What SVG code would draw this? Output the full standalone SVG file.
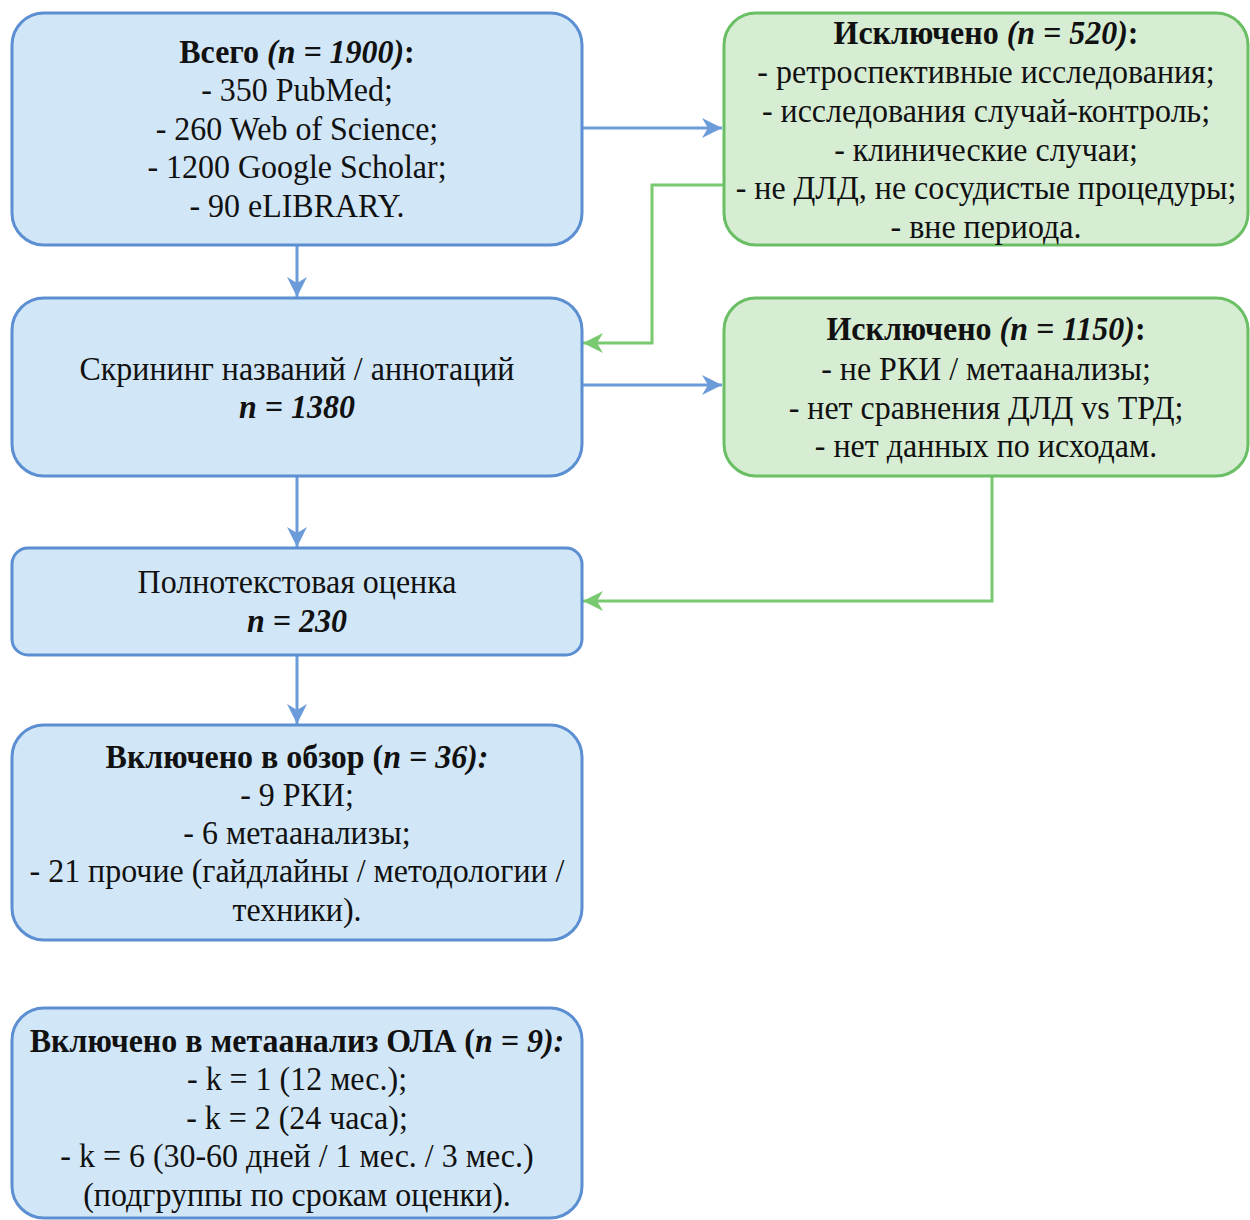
<svg xmlns="http://www.w3.org/2000/svg" width="1250" height="1220" viewBox="0 0 1250 1220">
<style>
.bn{fill:#d1e7f7;stroke:#5b8fd2;stroke-width:3}
.gn{fill:#d6edd4;stroke:#6abf64;stroke-width:3}
text{font-family:"Liberation Serif","Times New Roman",serif;font-size:34px;fill:#111;text-anchor:middle}
.b{font-weight:bold}
.i{font-style:italic}
.cb{fill:none;stroke:#6b9cd9;stroke-width:3}
.cg{fill:none;stroke:#79c970;stroke-width:3}
</style>
<defs>
<marker id="ab" markerWidth="22" markerHeight="22" refX="20" refY="11" orient="auto" markerUnits="userSpaceOnUse">
<path d="M0,1 L20,11 L0,21 L6,11 z" fill="#6b9cd9"/>
</marker>
<marker id="ag" markerWidth="22" markerHeight="22" refX="20" refY="11" orient="auto" markerUnits="userSpaceOnUse">
<path d="M0,1 L20,11 L0,21 L6,11 z" fill="#79c970"/>
</marker>
</defs>
<g id="connectors">
<path class="cb" d="M582,128 L722,128" marker-end="url(#ab)"/>
<path class="cb" d="M297,245 L297,297" marker-end="url(#ab)"/>
<path class="cg" d="M724,185 L652,185 L652,343 L583,343" marker-end="url(#ag)"/>
<path class="cb" d="M582,385 L722,385" marker-end="url(#ab)"/>
<path class="cb" d="M297,476 L297,547" marker-end="url(#ab)"/>
<path class="cg" d="M992,476 L992,601 L583,601" marker-end="url(#ag)"/>
<path class="cb" d="M297,655 L297,724" marker-end="url(#ab)"/>
</g>
<g id="total">
<rect class="bn" x="12" y="13" width="570" height="232" rx="32"/>
<g transform="translate(297,0) scale(0.94,1)">
<text x="0" y="63"><tspan class="b">Всего </tspan><tspan class="b i">(n = 1900)</tspan><tspan class="b">:</tspan></text>
<text x="0" y="101">- 350 PubMed;</text>
<text x="0" y="140">- 260 Web of Science;</text>
<text x="0" y="178">- 1200 Google Scholar;</text>
<text x="0" y="217">- 90 eLIBRARY.</text>
</g>
</g>
<g id="excluded1">
<rect class="gn" x="724" y="13" width="524" height="232" rx="32"/>
<g transform="translate(986,0) scale(0.94,1)">
<text x="0" y="44"><tspan class="b">Исключено </tspan><tspan class="b i">(n = 520)</tspan><tspan class="b">:</tspan></text>
<text x="0" y="83">- ретроспективные исследования;</text>
<text x="0" y="122">- исследования случай-контроль;</text>
<text x="0" y="161">- клинические случаи;</text>
<text x="0" y="199">- не ДЛД, не сосудистые процедуры;</text>
<text x="0" y="238">- вне периода.</text>
</g>
</g>
<g id="screening">
<rect class="bn" x="12" y="298" width="570" height="178" rx="32"/>
<g transform="translate(297,0) scale(0.94,1)">
<text x="0" y="380">Скрининг названий / аннотаций</text>
<text x="0" y="418" class="b i">n = 1380</text>
</g>
</g>
<g id="excluded2">
<rect class="gn" x="724" y="298" width="524" height="178" rx="32"/>
<g transform="translate(986,0) scale(0.94,1)">
<text x="0" y="340"><tspan class="b">Исключено </tspan><tspan class="b i">(n = 1150)</tspan><tspan class="b">:</tspan></text>
<text x="0" y="380">- не РКИ / метаанализы;</text>
<text x="0" y="419">- нет сравнения ДЛД vs ТРД;</text>
<text x="0" y="457">- нет данных по исходам.</text>
</g>
</g>
<g id="fulltext">
<rect class="bn" x="12" y="548" width="570" height="107" rx="16"/>
<g transform="translate(297,0) scale(0.94,1)">
<text x="0" y="593">Полнотекстовая оценка</text>
<text x="0" y="632" class="b i">n = 230</text>
</g>
</g>
<g id="included-review">
<rect class="bn" x="12" y="725" width="570" height="215" rx="32"/>
<g transform="translate(297,0) scale(0.94,1)">
<text x="0" y="768"><tspan class="b">Включено в обзор (</tspan><tspan class="b i">n = 36):</tspan></text>
<text x="0" y="806">- 9 РКИ;</text>
<text x="0" y="844">- 6 метаанализы;</text>
<text x="0" y="882">- 21 прочие (гайдлайны / методологии /</text>
<text x="0" y="921">техники).</text>
</g>
</g>
<g id="included-meta">
<rect class="bn" x="12" y="1008" width="570" height="210" rx="32"/>
<g transform="translate(297,0) scale(0.94,1)">
<text x="0" y="1052"><tspan class="b">Включено в метаанализ ОЛА (</tspan><tspan class="b i">n = 9):</tspan></text>
<text x="0" y="1090">- k = 1 (12 мес.);</text>
<text x="0" y="1129">- k = 2 (24 часа);</text>
<text x="0" y="1167">- k = 6 (30-60 дней / 1 мес. / 3 мес.)</text>
<text x="0" y="1206">(подгруппы по срокам оценки).</text>
</g>
</g>
</svg>
